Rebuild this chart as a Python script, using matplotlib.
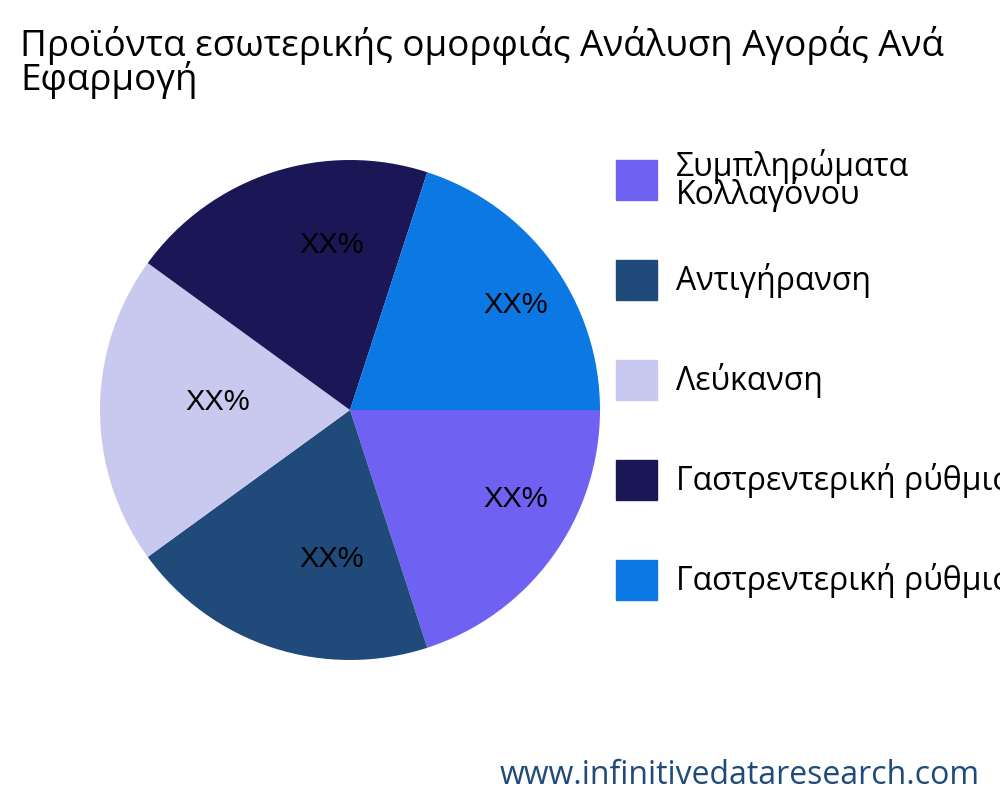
import matplotlib.pyplot as plt
from matplotlib.patches import Rectangle

categories = ["Συμπληρώματα\nΚολλαγόνου", "Αντιγήρανση", "Λεύκανση",
              "Γαστρεντερική ρύθμιση", "Γαστρεντερική ρύθμιση"]
values = [20, 20, 20, 20, 20]
colors = ["#6F61F2", "#1F4A7A", "#C9C8EE", "#1B1756", "#0B78E3"]

fig = plt.figure(figsize=(10, 8), dpi=100)
ax = fig.add_axes([0.1, 0.175, 0.5, 0.625])
ax.pie(values, colors=colors, startangle=0, counterclock=False,
       labels=["XX%"] * 5, labeldistance=0.66,
       textprops=dict(fontsize=21, family="Liberation Sans", color="black"))
for t in ax.texts:
    t.set_ha("left")
    t.set_va("baseline")
ax.set_xlim(-1, 1)
ax.set_ylim(-1, 1)
ax.set_aspect("equal")

fig.text(0.02, 0.968, "Προϊόντα εσωτερικής ομορφιάς Ανάλυση Αγοράς Ανά\nΕφαρμογή",
         fontsize=26.5, family="Open Sans", va="top", linespacing=0.88)

for i, name in enumerate(categories):
    y = 0.75 - i * 0.125
    fig.patches.append(Rectangle((0.616, y), 0.041, 0.05, color=colors[i],
                                 transform=fig.transFigure))
    fig.text(0.676, y + 0.024, name, fontsize=23, family="Open Sans",
             va="center", linespacing=0.75)

fig.text(0.98, 0.02, "www.infinitivedataresearch.com", fontsize=23,
         family="Open Sans", color="#1F4A7A", ha="right")

fig.savefig("out.png")
